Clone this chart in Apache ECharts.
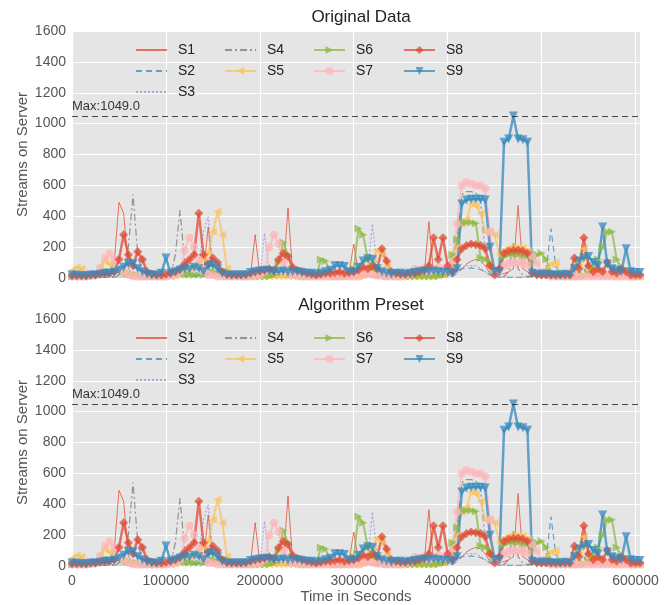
<!DOCTYPE html>
<html>
<head>
<meta charset="utf-8">
<script src="https://cdn.jsdelivr.net/npm/echarts@6/dist/echarts.min.js"></script>
<style>
html,body{margin:0;padding:0;background:#fff;}
#chart{width:672px;height:605px;}
</style>
</head>
<body>
<div id="chart"></div>
<script>
// Shared time grid (seconds)
var times = [0,5000,10000,15000,20000,25000,30000,35000,40000,45000,
50000,55000,60000,65000,70000,75000,80000,85000,90000,95000,
100000,105000,110000,115000,120000,125000,130000,135000,140000,145000,
150000,155000,160000,165000,170000,175000,180000,185000,190000,195000,
200000,205000,210000,215000,220000,225000,230000,235000,240000,245000,
250000,255000,260000,265000,270000,275000,280000,285000,290000,295000,
300000,305000,310000,315000,320000,325000,330000,335000,340000,345000,
350000,355000,360000,365000,370000,375000,380000,385000,390000,395000,
400000,405000,410000,415000,420000,425000,430000,435000,440000,445000,
450000,455000,460000,465000,470000,475000,480000,485000,490000,495000,
500000,505000,510000,515000,520000,525000,530000,535000,540000,545000,
550000,555000,560000,565000,570000,575000,580000,585000,590000,595000,600000,604800];

var seriesNames = ['S1','S2','S3','S4','S5','S6','S7','S8','S9'];
var titles = ['Original Data','Algorithm Preset'];
var xTicks = [0,100000,200000,300000,400000,500000,600000];
var yTicks = [0,200,400,600,800,1000,1200,1400,1600];

var s1 = [10,10,10,10,10,10,15,15,20,100,
490,420,60,20,15,10,10,10,10,10,
10,10,15,15,20,20,20,20,25,330,
40,20,15,10,10,10,10,10,15,280,
20,15,15,15,20,25,455,30,20,15,
10,10,10,10,10,15,20,20,15,30,
220,30,20,20,20,15,15,10,10,10,
10,10,15,15,20,20,365,30,20,20,
20,30,50,60,90,110,120,110,80,30,
20,20,30,40,60,470,60,40,30,20,
15,15,15,10,10,10,10,15,40,20,
15,15,15,10,10,10,10,10,10,10,10,10];
var s2 = [5,5,5,5,5,5,5,5,5,5,
10,15,20,15,10,5,5,5,5,5,
5,5,10,10,10,10,10,10,10,10,
5,5,5,5,5,5,5,5,5,5,
5,5,5,5,5,5,5,5,5,5,
5,5,5,5,5,5,5,5,5,5,
5,5,10,10,10,5,5,5,5,5,
5,5,5,5,5,5,5,5,5,5,
5,10,30,60,60,65,60,55,40,20,
10,5,5,5,5,5,5,5,10,20,
30,60,320,80,20,10,5,5,5,5,
5,5,5,5,5,5,5,5,5,5,5,5];
var s3 = [5,5,5,5,5,5,20,20,10,5,
5,5,10,20,200,40,10,5,5,5,
5,5,5,5,10,20,40,80,300,400,
80,20,5,5,5,5,5,5,5,5,
5,290,40,10,5,5,5,5,5,5,
5,5,5,5,5,5,5,5,5,5,
5,10,20,60,350,60,20,10,5,5,
5,5,5,5,5,5,5,10,10,10,
10,20,40,60,80,80,80,60,40,20,
10,5,5,5,5,5,5,5,10,10,
10,10,10,5,5,5,5,5,5,5,
5,10,20,20,10,5,5,5,5,5,5,5];
var s4 = [5,5,5,5,5,5,5,5,5,10,
20,40,200,540,150,30,10,5,5,5,
5,10,150,440,100,30,20,20,20,20,
20,10,5,5,5,5,5,5,5,5,
5,5,5,5,5,5,5,5,5,5,
5,5,5,5,5,5,5,5,5,5,
5,5,10,10,10,5,5,5,5,5,
5,5,5,5,20,5,5,5,5,5,
10,60,250,540,560,560,550,500,150,40,
20,10,10,40,230,60,20,10,10,10,
10,10,10,10,10,10,10,10,20,40,
100,60,20,10,10,5,5,5,5,5,5,5];
var s5 = [50,70,60,20,15,30,80,110,90,50,
40,30,20,15,10,10,10,10,10,10,
10,10,15,20,40,60,80,100,120,160,
300,430,280,60,20,10,10,10,10,10,
10,10,10,10,10,10,10,10,10,10,
10,10,10,10,10,10,10,10,10,10,
10,10,20,60,120,180,160,80,20,10,
10,10,10,10,10,10,10,10,15,20,
40,80,200,350,380,480,470,420,300,300,
280,150,180,195,200,200,195,180,40,20,
20,60,90,100,30,20,10,10,100,190,
60,40,30,20,10,10,10,10,10,10,10,10];
var s6 = [10,10,10,10,10,15,20,30,40,50,
50,40,30,20,15,10,10,10,10,10,
10,20,40,40,30,20,20,20,20,30,
40,30,20,10,10,10,10,10,10,10,
10,10,10,20,100,230,150,60,20,10,
10,10,10,120,110,30,10,10,10,20,
60,320,280,120,60,30,20,10,10,10,
10,10,10,10,10,10,10,10,10,20,
40,150,250,360,360,360,355,130,120,100,
40,50,140,150,150,150,145,140,100,150,
160,120,40,20,10,10,10,10,10,10,
30,60,120,200,300,300,120,60,40,20,10,10];
var s7 = [10,10,10,10,15,20,60,130,160,120,
60,40,20,10,10,10,10,10,10,10,
10,15,20,40,180,260,200,120,40,20,
20,10,10,10,10,10,10,10,10,15,
20,40,200,280,220,100,40,20,15,10,
10,10,10,10,10,10,10,10,10,10,
10,10,20,30,20,15,15,10,10,10,
10,15,30,60,50,60,40,60,70,50,
60,100,350,600,620,610,600,600,580,300,
30,40,80,95,100,100,95,85,140,100,
40,20,10,10,10,10,10,10,10,10,
10,10,10,10,10,10,10,10,10,10,10,10];
var s8 = [15,15,15,15,20,20,25,30,30,40,
120,280,150,80,170,120,40,25,20,20,
25,30,40,60,90,120,150,420,150,90,
130,100,40,25,20,20,20,25,30,40,
45,50,60,50,120,160,140,70,50,40,
30,25,20,25,30,30,35,40,30,35,
40,50,70,60,80,60,190,110,40,30,
25,25,30,30,40,50,80,260,120,260,
80,40,120,190,210,220,215,210,190,80,
20,60,160,175,180,180,175,160,30,20,
20,20,20,20,20,20,20,130,60,260,
80,40,60,40,100,40,30,60,40,20,20,20];
var s9 = [20,20,15,15,20,20,25,30,30,35,
50,70,95,90,60,40,25,20,20,30,
130,30,40,50,60,55,70,60,40,75,
85,60,30,20,20,20,20,20,35,40,
45,50,45,40,40,45,35,40,40,35,
30,30,25,30,40,50,80,80,75,40,
40,70,110,125,120,60,40,30,25,30,
30,25,30,35,40,45,40,45,40,35,
40,30,60,480,505,510,510,510,505,200,
40,40,880,900,1049,900,895,880,30,25,
25,25,20,20,20,25,20,60,110,130,
140,100,80,330,90,60,50,40,190,40,35,35];

var allValues = [s1,s2,s3,s4,s5,s6,s7,s8,s9];
var maxValue = Math.max.apply(null, allValues.map(function(a){return Math.max.apply(null,a);}));

var colors = ['#E24A33','#348ABD','#988ED5','#777777','#FBC15E','#8EBA42','#FFB5B8','#E24A33','#348ABD'];
var styles = [
  {dash:'solid', width:1, symbol:'none'},
  {dash:[6,4], width:1.2, symbol:'none'},
  {dash:[2,2], width:1.2, symbol:'none'},
  {dash:[7,3,2,3], width:1.2, symbol:'none'},
  {dash:'solid', width:2, symbol:'triangle', rotate:90},
  {dash:'solid', width:2, symbol:'triangle', rotate:-90},
  {dash:'solid', width:2, symbol:'circle', rotate:0},
  {dash:'solid', width:2.5, symbol:'diamond', rotate:0},
  {dash:'solid', width:2.5, symbol:'triangle', rotate:180}
];

var FONT = 'Liberation Sans, Arial, sans-serif';
var gridTops = [31, 319];
var gridH = 247;

var option = {
  animation:false,
  backgroundColor:'#fff',
  textStyle:{fontFamily:FONT},
  title:[],
  grid:[],
  xAxis:[],
  yAxis:[],
  legend:[],
  series:[]
};

var legendCols = [['S1','S2','S3'],['S4','S5'],['S6','S7'],['S8','S9']];
var legendLefts = [135,224,313,403];

function legendItem(name){
  var idx = seriesNames.indexOf(name);
  if (styles[idx].symbol === 'none') {
    return {name:name, itemStyle:{opacity:0}};
  }
  return {name:name};
}

for (var g=0; g<2; g++){
  option.title.push({
    text:titles[g], left:356, top:gridTops[g]-27, textAlign:'center',
    textStyle:{fontFamily:FONT, fontSize:17, fontWeight:'normal', color:'#222'}
  });
  option.grid.push({
    left:72, top:gridTops[g], width:568, height:gridH,
    show:true, backgroundColor:'#E5E5E5', borderWidth:0
  });
  option.xAxis.push({
    type:'value', gridIndex:g, min:0, max:604800, interval:100000,
    axisLine:{show:false}, axisTick:{show:false},
    axisLabel:{show:g===1, color:'#555', fontSize:14, fontFamily:FONT, margin:8, showMaxLabel:false,
      formatter:function(v){return xTicks.indexOf(v)>=0 ? String(v) : '';}},
    splitLine:{show:true, lineStyle:{color:'#fff', width:1.2}},
    name: g===1 ? 'Time in Seconds' : '', nameLocation:'middle', nameGap:23,
    nameTextStyle:{color:'#555', fontSize:15, fontFamily:FONT}
  });
  option.yAxis.push({
    type:'value', gridIndex:g, min:0, max:1600, interval:200,
    axisLine:{show:false}, axisTick:{show:false},
    axisLabel:{color:'#555', fontSize:14, fontFamily:FONT, margin:6,
      formatter:function(v){return yTicks.indexOf(v)>=0 ? String(v) : '';}},
    splitLine:{show:true, lineStyle:{color:'#fff', width:1.2}},
    name:'Streams on Server', nameLocation:'middle', nameGap:42, nameMoveOverlap:false,
    nameTextStyle:{color:'#555', fontSize:15, fontFamily:FONT}
  });
  for (var c=0; c<legendCols.length; c++){
    option.legend.push({
      orient:'vertical', left:legendLefts[c], top:gridTops[g]+12, padding:0,
      itemWidth:31, itemHeight:10, itemGap:7,
      data:legendCols[c].map(legendItem), selectedMode:false,
      textStyle:{color:'#222', fontSize:14, fontFamily:FONT, padding:[0,0,0,6]}
    });
  }
  for (var k=0; k<9; k++){
    var st = styles[k];
    var vals = allValues[k];
    var s = {
      name:seriesNames[k], type:'line', xAxisIndex:g, yAxisIndex:g,
      data: times.map(function(t,i){return [t, vals[i]];}),
      symbol: st.symbol, symbolSize: k>=7 ? 9 : 8, symbolRotate: st.rotate || 0,
      showSymbol: st.symbol !== 'none',
      lineStyle:{color:colors[k], width:st.width, type:st.dash, opacity:0.75},
      itemStyle:{color:colors[k], opacity:0.75, borderWidth:0},
      emphasis:{disabled:true}, silent:true
    };
    if (k===8){
      s.markLine = {
        silent:true, symbol:'none',
        lineStyle:{color:'#333', width:1, type:[6,4], opacity:0.9},
        label:{position:'insideStartTop', formatter:'Max:' + maxValue.toFixed(1), color:'#222', fontSize:13, fontFamily:FONT, distance:[0,3]},
        data:[{yAxis:maxValue}]
      };
    }
    option.series.push(s);
  }
}

var chart = echarts.init(document.getElementById('chart'), null, {renderer:'canvas'});
chart.setOption(option);
</script>
</body>
</html>
